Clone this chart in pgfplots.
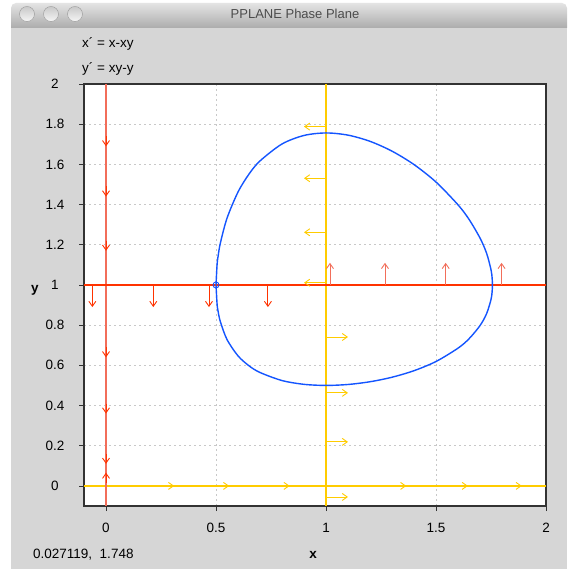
\documentclass[border=0pt]{standalone}
\usepackage{fontspec}
\setmainfont{Liberation Sans}
\usepackage{pgfplots}
\pgfplotsset{compat=1.18}
\usetikzlibrary{arrows.meta}
\definecolor{winbg}{RGB}{214,214,214}
\definecolor{tbtop}{RGB}{228,228,228}
\definecolor{tbbot}{RGB}{172,172,172}
\definecolor{cirtop}{RGB}{200,200,200}
\definecolor{cirbot}{RGB}{245,245,245}
\definecolor{nred}{RGB}{255,51,0}
\definecolor{nsalmon}{RGB}{242,110,90}
\definecolor{nyel}{RGB}{255,204,0}
\definecolor{orbit}{RGB}{20,85,255}
\definecolor{gridc}{RGB}{200,200,200}
\begin{document}
\begin{tikzpicture}
\useasboundingbox (0pt,0pt) rectangle (567pt,569pt);
\fill[white] (0pt,0pt) rectangle (567pt,569pt);
\fill[winbg] (11pt,0pt) rectangle (567pt,542pt);
\shade[top color=tbtop, bottom color=tbbot] (11pt,541pt) [rounded corners=5pt] -- (11pt,566pt) -- (567pt,566pt) [sharp corners] -- (567pt,541pt) -- cycle;
\foreach \cx in {27,51,75}{
  \shade[top color=cirtop, bottom color=cirbot, draw=gray!80] (\cx pt,555pt) circle (7.5pt);
}
\node[text=black!70, font=\fontsize{13}{15}\selectfont] at (295pt,555pt) {PPLANE Phase Plane};
\node[anchor=west, font=\fontsize{13.5}{15}\selectfont, inner sep=0] at (82pt,525pt) {x´ = x-xy};
\node[anchor=west, font=\fontsize{13.5}{15}\selectfont, inner sep=0] at (82pt,500pt) {y´ = xy-y};
\node[font=\bfseries\fontsize{13.5}{15}\selectfont] at (35pt,279pt) {y};
\node[font=\bfseries\fontsize{13.5}{15}\selectfont] at (313pt,14pt) {x};
\node[anchor=west, font=\fontsize{13.5}{15}\selectfont, inner sep=0] at (33pt,14pt) {0.027119,\ \ 1.748};
\begin{axis}[at={(84pt,63pt)}, anchor=south west, scale only axis, width=462pt, height=422pt,
  xmin=-0.1, xmax=2, ymin=-0.1, ymax=2,
  xtick={0,0.5,1,1.5,2}, ytick={0,0.2,0.4,0.6,0.8,1,1.2,1.4,1.6,1.8,2},
  xticklabels={0,0.5,1,1.5,2},
  yticklabels={0,0.2,0.4,0.6,0.8,1,1.2,1.4,1.6,1.8,2},
  tick align=outside, tick pos=left, major tick length=5pt,
  every tick/.style={black!80, line width=0.8pt},
  grid=major, major grid style={gridc, line width=0.8pt, dash pattern=on 2pt off 3pt},
  axis line style={black!80, line width=1.2pt},
  axis background/.style={fill=white},
  ticklabel style={font=\fontsize{13.5}{15}\selectfont},
  xticklabel style={anchor=center, yshift=-17pt},
  yticklabel style={anchor=center, xshift=-24pt},
  clip=true]
% yellow nullclines
\addplot[nyel, line width=1.4pt] coordinates {(-0.1,0) (2,0)};
\addplot[nyel, line width=1.3pt] coordinates {(1,-0.1) (1,2)};
% red nullclines
\addplot[nsalmon, line width=1.3pt] coordinates {(0,-0.1) (0,2)};
\addplot[nred, line width=1.3pt] coordinates {(-0.1,1) (2,1)};
% arrows on red nullclines
\addplot[nred, line width=0.9pt, -{Straight Barb[length=5pt,width=7pt]}, quiver={u=\thisrow{u},v=\thisrow{v}}] table {
x y u v
-0.062 1 0 -0.11
0.215 1 0 -0.11
0.468 1 0 -0.11
0.736 1 0 -0.11
};
\addplot[nsalmon, line width=0.9pt, -{Straight Barb[length=5pt,width=7pt]}, quiver={u=\thisrow{u},v=\thisrow{v}}] table {
x y u v
1.018 1 0 0.11
1.268 1 0 0.11
1.544 1 0 0.11
1.798 1 0 0.11
};
\addplot[nred, line width=0.9pt, -{Straight Barb[length=5pt,width=7pt]}, quiver={u=\thisrow{u},v=\thisrow{v}}] table {
x y u v
0 1.74 0 -0.05
0 1.49 0 -0.05
0 1.22 0 -0.05
0 0.69 0 -0.05
0 0.41 0 -0.05
0 0.16 0 -0.05
0 0.016 0 0.05
};
% arrows on yellow nullclines
\addplot[nyel, line width=0.9pt, -{Straight Barb[length=5pt,width=7pt]}, quiver={u=\thisrow{u},v=\thisrow{v}}] table {
x y u v
1 1.788 -0.1 0
1 1.531 -0.1 0
1 1.262 -0.1 0
1 1.011 -0.1 0
1 0.741 0.1 0
1 0.463 0.1 0
1 0.219 0.1 0
1 -0.055 0.1 0
};
\addplot[nyel, line width=0.9pt, -{Straight Barb[length=5pt,width=7pt]}, quiver={u=\thisrow{u},v=\thisrow{v}}] table {
x y u v
0.26 0 0.05 0
0.51 0 0.05 0
0.785 0 0.05 0
1.315 0 0.05 0
1.595 0 0.05 0
1.84 0 0.05 0
};
% orbit
\addplot[orbit, line width=1.4pt, smooth, tension=0.5] coordinates {
(0.5,1.0) (0.505,0.9035) (0.51,0.8659) (0.52,0.8165) (0.55,0.7284) (0.6,0.6471)
(0.65,0.5977) (0.7,0.5643) (0.8,0.5243) (0.9,0.5054) (1.0,0.5) (1.1,0.5047)
(1.2,0.5183) (1.3,0.5408) (1.4,0.5733) (1.5,0.6191) (1.6,0.6854) (1.65,0.7321)
(1.7,0.7977) (1.73,0.8573) (1.75,0.9273) (1.755,0.9655) (1.7564,1.0) (1.755,1.0357)
(1.75,1.076) (1.73,1.1577) (1.7,1.2336) (1.65,1.3265) (1.6,1.3987) (1.5,1.5121)
(1.4,1.599) (1.3,1.6658) (1.2,1.7147) (1.1,1.7455) (1.0,1.7564) (0.9,1.7439)
(0.8,1.7015) (0.7,1.6171) (0.65,1.5517) (0.6,1.4624) (0.55,1.332) (0.52,1.2091)
(0.51,1.1465) (0.505,1.1028) (0.5,1.0)
};
\addplot[orbit, only marks, mark=o, mark size=3pt, mark options={line width=0.9pt}] coordinates {(0.5,1)};
\end{axis}
\end{tikzpicture}
\end{document}
